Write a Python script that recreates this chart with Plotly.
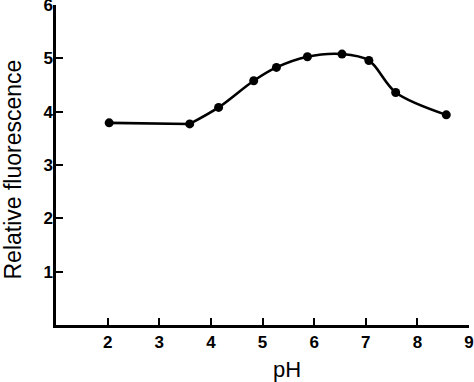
import plotly.graph_objects as go

ph = [2.03, 3.59, 4.15, 4.83, 5.27, 5.87, 6.54, 7.06, 7.58, 8.56]
fluorescence = [3.79, 3.77, 4.08, 4.58, 4.83, 5.03, 5.08, 4.96, 4.36, 3.94]
x_ticks = [2, 3, 4, 5, 6, 7, 8, 9]
y_ticks = [1, 2, 3, 4, 5, 6]

# plot-area geometry in pixels
L, R, T, B = 56, 469, 5, 325
W, H = 474, 382

fig = go.Figure()
# flat low-pH segment drawn straight, remaining curve smoothed
fig.add_trace(go.Scatter(
    x=ph[:2], y=fluorescence[:2], mode="lines",
    line=dict(color="black", width=2.6), showlegend=False, hoverinfo="skip",
))
fig.add_trace(go.Scatter(
    x=ph[1:], y=fluorescence[1:], mode="lines",
    line=dict(color="black", width=2.6, shape="spline", smoothing=0.9),
    showlegend=False, hoverinfo="skip",
))
fig.add_trace(go.Scatter(
    x=ph, y=fluorescence, mode="markers",
    marker=dict(color="black", size=9), showlegend=False,
))

font = dict(family="Liberation Sans, Arial, sans-serif", size=17, color="black", weight="bold")

fig.update_xaxes(
    range=[1, 9], tickvals=x_ticks, ticktext=[str(v) for v in x_ticks],
    showgrid=False, zeroline=False, showline=True, linecolor="black", linewidth=2.5,
    ticks="inside", ticklen=7, tickwidth=2, tickcolor="black",
    tickfont=font, automargin=False, ticklabeloverflow="allow",
)
fig.update_yaxes(
    range=[0, 6], tickvals=y_ticks, ticktext=[str(v) for v in y_ticks],
    showgrid=False, zeroline=False, showline=True, linecolor="black", linewidth=2.5,
    ticks="inside", ticklen=7, tickwidth=2, tickcolor="black",
    tickfont=font, automargin=False, ticklabeloverflow="allow", ticklabelstandoff=-3,
)

title_font = dict(family="Liberation Sans, Arial, sans-serif", size=23, color="black")
fig.add_annotation(text="Relative fluorescence", textangle=-90,
                   x=(12.5 - L) / (R - L), y=(B - 170) / (B - T),
                   xref="paper", yref="paper", showarrow=False,
                   xanchor="center", yanchor="middle", font=title_font)
fig.add_annotation(text="pH", x=(287 - L) / (R - L), y=-(369 - B) / (B - T),
                   xref="paper", yref="paper", showarrow=False,
                   yanchor="middle", xanchor="center",
                   font=dict(family="Liberation Sans, Arial, sans-serif", size=22, color="black"))

fig.update_layout(
    width=W, height=H,
    margin=dict(l=L, r=W - R, t=T, b=H - B),
    paper_bgcolor="white", plot_bgcolor="white",
)

fig.write_html("out.html", config={"displayModeBar": False},
               post_script="document.body.style.margin='0';")
